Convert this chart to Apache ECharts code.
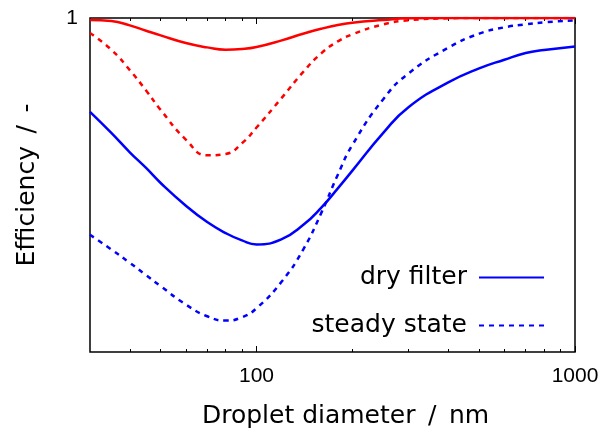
<!DOCTYPE html>
<html>
<head>
<meta charset="utf-8">
<script src="https://cdn.jsdelivr.net/npm/echarts@6/dist/echarts.min.js"></script>
<style>html,body{margin:0;padding:0;background:#fff}#c{width:606px;height:434px}</style>
</head>
<body>
<div id="c"></div>
<script>
// Droplet diameter (nm)
const diameters = [30, 35, 40, 45, 50, 60, 70, 80, 90, 100, 120, 140, 160, 180, 200, 250, 300, 400, 500, 600, 700, 800, 1000];
// Efficiency values
const blueDry    = [0.719, 0.656, 0.598, 0.551, 0.506, 0.438, 0.389, 0.356, 0.334, 0.322, 0.338, 0.380, 0.433, 0.490, 0.543, 0.656, 0.733, 0.807, 0.849, 0.875, 0.895, 0.904, 0.915];
const blueSteady = [0.351, 0.307, 0.267, 0.230, 0.197, 0.142, 0.107, 0.094, 0.104, 0.131, 0.211, 0.306, 0.418, 0.531, 0.620, 0.757, 0.834, 0.911, 0.953, 0.972, 0.981, 0.987, 0.993];
const redDry     = [0.994, 0.991, 0.978, 0.962, 0.948, 0.925, 0.912, 0.905, 0.907, 0.913, 0.933, 0.953, 0.968, 0.979, 0.986, 0.994, 0.999, 1.0, 1.0, 1.0, 1.0, 1.0, 1.0];
const redSteady  = [0.955, 0.905, 0.844, 0.783, 0.725, 0.636, 0.589, 0.593, 0.625, 0.672, 0.761, 0.838, 0.895, 0.930, 0.951, 0.981, 0.993, 0.999, 1.0, 1.0, 1.0, 1.0, 1.0];
const majorTicks = [100, 1000];
const minorTicks = [40, 50, 60, 70, 80, 90, 200, 300, 400, 500, 600, 700, 800, 900];
const yTickLabels = [1];

const FONT = 'DejaVu Sans';
const TICKFONT = 'Liberation Sans';
const pairs = arr => diameters.map((d, i) => [d, arr[i]]);

function xAxisDef(pos, ticks, len, showLabel) {
  return {
    type: 'log', logBase: 10, min: 30, max: 1000, position: pos,
    axisLine: { show: false },
    splitLine: { show: false },
    axisTick: { show: true, inside: true, length: len, customValues: ticks, lineStyle: { color: '#000', width: 1 } },
    axisLabel: showLabel ? {
      show: true, customValues: majorTicks, fontFamily: TICKFONT, fontSize: 21, color: '#000', margin: 14,
      formatter: v => String(Math.round(v))
    } : { show: false }
  };
}

function lineSeries(name, arr, color, dashed) {
  return {
    name: name, type: 'line', data: pairs(arr), smooth: 0.5, showSymbol: false, symbol: 'none',
    lineStyle: { color: color, width: 2.5, type: dashed ? [5, 5] : 'solid' },
    itemStyle: { color: color }
  };
}

const chart = echarts.init(document.getElementById('c'), null, { renderer: 'canvas' });
chart.setOption({
  animation: false,
  backgroundColor: '#fff',
  grid: { left: 90, right: 31, top: 18, bottom: 79, show: true, borderColor: '#000', borderWidth: 1.5, backgroundColor: 'transparent' },
  xAxis: [
    Object.assign(xAxisDef('bottom', majorTicks, 6, true), {
      name: 'Droplet diameter\u2002/\u2002nm', nameLocation: 'middle', nameGap: 52,
      nameTextStyle: { fontFamily: FONT, fontSize: 25, color: '#000', padding: [0, 0, 0, 26] }
    }),
    xAxisDef('bottom', minorTicks, 3, false),
    xAxisDef('top', majorTicks, 6, false),
    xAxisDef('top', minorTicks, 3, false)
  ],
  yAxis: {
    type: 'value', min: 0, max: 1,
    axisLine: { show: false }, axisTick: { show: false }, splitLine: { show: false },
    axisLabel: { customValues: yTickLabels, fontFamily: TICKFONT, fontSize: 21, color: '#000', margin: 12 },
    name: 'Efficiency\u2002/\u2002-', nameLocation: 'middle', nameGap: 50,
    nameTextStyle: { fontFamily: FONT, fontSize: 25, color: '#000' }
  },
  legend: {
    data: ['dry filter', 'steady state'],
    orient: 'vertical', align: 'right', right: 61, top: 265, padding: 0,
    itemWidth: 65, itemHeight: 28, itemGap: 23,
    itemStyle: { opacity: 0 },
    textStyle: { fontFamily: FONT, fontSize: 25, color: '#000', padding: [0, 7, 0, 0] }
  },
  series: [
    lineSeries('dry filter', blueDry, '#0000ff', false),
    lineSeries('steady state', blueSteady, '#0000ff', true),
    lineSeries('dry filter (red)', redDry, '#ff0000', false),
    lineSeries('steady state (red)', redSteady, '#ff0000', true)
  ]
});
</script>
</body>
</html>
